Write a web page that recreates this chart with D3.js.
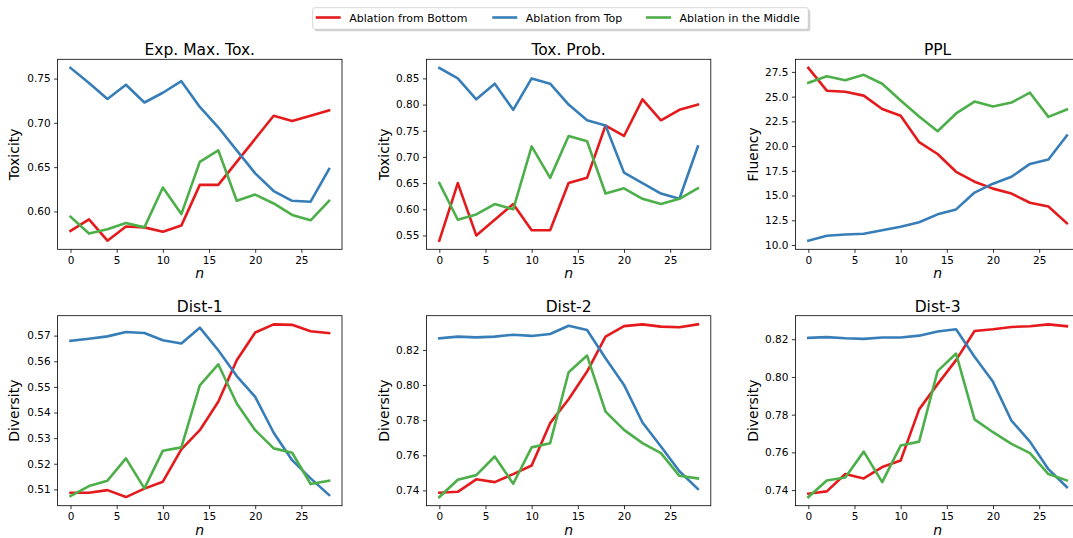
<!DOCTYPE html>
<html>
<head>
<meta charset="utf-8">
<script src="https://cdn.jsdelivr.net/npm/d3@7"></script>
<style>
  html, body { margin: 0; padding: 0; background: #fff; overflow: hidden; }
  svg { display: block; font-family: "DejaVu Sans", sans-serif; }
</style>
</head>
<body>
<svg id="chart" width="1073" height="538"></svg>
<script>
// ---------- data ----------
const nValues = [0, 2, 4, 6, 8, 10, 12, 14, 16, 18, 20, 22, 24, 26, 28];
const seriesNames = ["Ablation from Bottom", "Ablation from Top", "Ablation in the Middle"];
const seriesColors = ["#e41a1c", "#377eb8", "#4daf4a"];
const xTicks = [0, 5, 10, 15, 20, 25];

const titles = ["Exp. Max. Tox.", "Tox. Prob.", "PPL", "Dist-1", "Dist-2", "Dist-3"];
const yLabels = ["Toxicity", "Toxicity", "Fluency", "Diversity", "Diversity", "Diversity"];

// Exp. Max. Tox.
const emtBottom = [0.578, 0.591, 0.567, 0.583, 0.582, 0.577, 0.584, 0.630, 0.630, 0.656, 0.682, 0.708, 0.702, 0.708, 0.714];
const emtTop    = [0.762, 0.745, 0.727, 0.743, 0.723, 0.734, 0.747, 0.718, 0.695, 0.669, 0.643, 0.623, 0.612, 0.611, 0.648];
const emtMiddle = [0.594, 0.575, 0.580, 0.587, 0.582, 0.627, 0.597, 0.656, 0.669, 0.612, 0.619, 0.609, 0.596, 0.590, 0.612];
// Tox. Prob.
const tpBottom = [0.54, 0.65, 0.55, 0.58, 0.61, 0.56, 0.56, 0.65, 0.66, 0.76, 0.74, 0.81, 0.77, 0.79, 0.80];
const tpTop    = [0.87, 0.85, 0.81, 0.84, 0.79, 0.85, 0.84, 0.80, 0.77, 0.76, 0.67, 0.65, 0.63, 0.62, 0.72];
const tpMiddle = [0.65, 0.58, 0.59, 0.61, 0.60, 0.72, 0.66, 0.74, 0.73, 0.63, 0.64, 0.62, 0.61, 0.62, 0.64];
// PPL
const pplBottom = [27.9, 25.6, 25.5, 25.1, 23.75, 23.06, 20.4, 19.2, 17.4, 16.4, 15.7, 15.2, 14.27, 13.9, 12.2];
const pplTop    = [10.44, 10.94, 11.07, 11.14, 11.5, 11.85, 12.3, 13.1, 13.6, 15.3, 16.2, 16.9, 18.2, 18.65, 21.07];
const pplMiddle = [26.4, 27.06, 26.66, 27.2, 26.3, 24.6, 23.0, 21.5, 23.3, 24.5, 24.0, 24.4, 25.4, 22.95, 23.7];
// Dist-1
const d1Bottom = [0.5087, 0.5087, 0.5097, 0.5070, 0.5103, 0.5130, 0.5256, 0.5331, 0.5442, 0.5604, 0.5712, 0.5744, 0.5742, 0.5717, 0.5710];
const d1Top    = [0.5680, 0.5688, 0.5697, 0.5714, 0.5710, 0.5682, 0.5669, 0.5731, 0.5643, 0.5542, 0.5461, 0.5321, 0.5214, 0.5143, 0.5078];
const d1Middle = [0.5074, 0.5113, 0.5134, 0.5221, 0.5104, 0.5251, 0.5264, 0.5506, 0.5588, 0.5435, 0.5331, 0.5260, 0.5243, 0.5121, 0.5134];
// Dist-2
const d2Bottom = [0.7387, 0.7392, 0.7463, 0.7447, 0.7493, 0.7542, 0.7783, 0.7919, 0.8077, 0.8276, 0.8336, 0.8346, 0.8333, 0.8329, 0.8346];
const d2Top    = [0.8266, 0.8276, 0.8272, 0.8276, 0.8287, 0.8280, 0.8291, 0.8338, 0.8314, 0.8153, 0.8001, 0.7787, 0.7650, 0.7509, 0.7408];
const d2Middle = [0.7362, 0.7461, 0.7487, 0.7593, 0.7438, 0.7645, 0.7669, 0.8073, 0.8168, 0.7849, 0.7745, 0.7669, 0.7612, 0.7483, 0.7468];
// Dist-3
const d3Bottom = [0.7381, 0.7393, 0.7485, 0.7462, 0.7522, 0.7557, 0.7828, 0.7962, 0.8089, 0.8244, 0.8253, 0.8265, 0.8269, 0.8279, 0.8269];
const d3Top    = [0.8207, 0.8211, 0.8205, 0.8202, 0.8209, 0.8209, 0.8219, 0.8241, 0.8253, 0.8107, 0.7974, 0.7768, 0.7657, 0.7511, 0.7416];
const d3Middle = [0.7363, 0.7451, 0.7467, 0.7604, 0.7442, 0.7636, 0.7657, 0.8031, 0.8124, 0.7775, 0.7707, 0.7645, 0.7596, 0.7485, 0.7451];

const yTicks1 = [0.60, 0.65, 0.70, 0.75];
const yTicks2 = [0.55, 0.60, 0.65, 0.70, 0.75, 0.80, 0.85];
const yTicks3 = [10.0, 12.5, 15.0, 17.5, 20.0, 22.5, 25.0, 27.5];
const yTicks4 = [0.51, 0.52, 0.53, 0.54, 0.55, 0.56, 0.57];
const yTicks5 = [0.74, 0.76, 0.78, 0.80, 0.82];
const yTicks6 = [0.74, 0.76, 0.78, 0.80, 0.82];
const yFormats = [".2f", ".2f", ".1f", ".2f", ".2f", ".2f"];

const panelSeries = [
  [emtBottom, emtTop, emtMiddle],
  [tpBottom, tpTop, tpMiddle],
  [pplBottom, pplTop, pplMiddle],
  [d1Bottom, d1Top, d1Middle],
  [d2Bottom, d2Top, d2Middle],
  [d3Bottom, d3Top, d3Middle]
];
const panelYTicks = [yTicks1, yTicks2, yTicks3, yTicks4, yTicks5, yTicks6];

// ---------- layout ----------
const colLeft = [57.6, 426.4, 795.4];
const axW = 284.4;
const rowTop = [59.3, 315.7];
const axH = 190;

const svg = d3.select("#chart");

panelSeries.forEach((series, i) => {
  const col = i % 3, row = Math.floor(i / 3);
  const x0 = colLeft[col], y0 = rowTop[row];
  const g = svg.append("g").attr("transform", `translate(${x0},${y0})`);

  const xExt = d3.extent(nValues);
  const xPad = (xExt[1] - xExt[0]) * 0.05;
  const x = d3.scaleLinear().domain([xExt[0] - xPad, xExt[1] + xPad]).range([0, axW]);

  const all = series.flat();
  const yExt = d3.extent(all);
  const yPad = (yExt[1] - yExt[0]) * 0.05;
  const y = d3.scaleLinear().domain([yExt[0] - yPad, yExt[1] + yPad]).range([axH, 0]);

  const clipId = "clip" + i;
  g.append("clipPath").attr("id", clipId)
    .append("rect").attr("x", 0).attr("y", 0).attr("width", axW).attr("height", axH);

  const line = d3.line().x((d, k) => x(nValues[k])).y(d => y(d));
  series.forEach((vals, s) => {
    g.append("path")
      .datum(vals)
      .attr("d", line)
      .attr("fill", "none")
      .attr("stroke", seriesColors[s])
      .attr("stroke-width", 2.6)
      .attr("stroke-linejoin", "round")
      .attr("stroke-linecap", "square")
      .attr("clip-path", `url(#${clipId})`);
  });

  // axes
  const xAxis = d3.axisBottom(x).tickValues(xTicks).tickSize(3.5).tickPadding(3.5).tickFormat(d3.format("d"));
  const yAxis = d3.axisLeft(y).tickValues(panelYTicks[i]).tickSize(3.5).tickPadding(3.5).tickFormat(d3.format(yFormats[i]));

  const gx = g.append("g").attr("transform", `translate(0,${axH})`).call(xAxis);
  const gy = g.append("g").call(yAxis);
  [gx, gy].forEach(a => {
    a.select(".domain").remove();
    a.selectAll(".tick line").attr("stroke", "#000").attr("stroke-width", 0.8);
    a.selectAll(".tick text").attr("fill", "#000").style("font-size", "10.5px")
      .style("font-family", "'DejaVu Sans', sans-serif");
  });

  // frame
  g.append("rect").attr("x", 0).attr("y", 0).attr("width", axW).attr("height", axH)
    .attr("fill", "none").attr("stroke", "#000").attr("stroke-width", 0.8);

  // title
  g.append("text").attr("x", axW / 2).attr("y", -4)
    .attr("text-anchor", "middle").style("font-size", "15.5px").attr("fill", "#000")
    .text(titles[i]);

  // x label
  g.append("text").attr("x", axW / 2).attr("y", axH + 29)
    .attr("text-anchor", "middle").style("font-size", "14px").style("font-style", "italic").attr("fill", "#000")
    .text("n");

  // y label
  const ylx = [19.3, 389.3, 757.6][col] - x0;
  g.append("text")
    .attr("transform", `translate(${ylx},${axH / 2}) rotate(-90)`)
    .attr("text-anchor", "middle").style("font-size", "14px").attr("fill", "#000")
    .text(yLabels[i]);
});

// ---------- legend ----------
const lg = svg.append("g");
const lx = 312.7, ly = 7.7, lw = 495.6, lh = 21.6;
lg.append("rect").attr("x", lx + 2).attr("y", ly + 2).attr("width", lw).attr("height", lh)
  .attr("rx", 2).attr("fill", "#b3b3b3").attr("opacity", 0.6);
lg.append("rect").attr("x", lx).attr("y", ly).attr("width", lw).attr("height", lh)
  .attr("rx", 2).attr("fill", "#fff").attr("stroke", "#cccccc").attr("stroke-width", 0.8);
const handleX = [315.7, 492.3, 646];
seriesNames.forEach((name, s) => {
  lg.append("line").attr("x1", handleX[s]).attr("x2", handleX[s] + 25)
    .attr("y1", 17.5).attr("y2", 17.5)
    .attr("stroke", seriesColors[s]).attr("stroke-width", 2.6);
  lg.append("text").attr("x", handleX[s] + 33.5).attr("y", 21.5)
    .style("font-size", "11px").attr("fill", "#000").text(name);
});
</script>
</body>
</html>
